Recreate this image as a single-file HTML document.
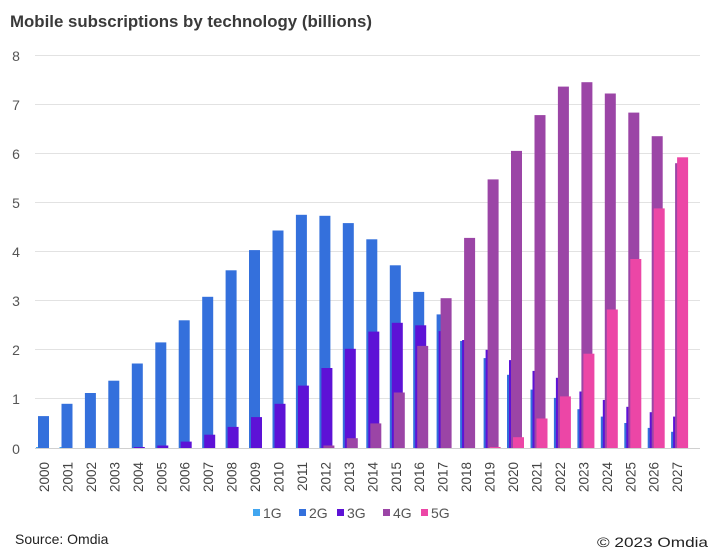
<!DOCTYPE html>
<html><head><meta charset="utf-8"><style>
html,body{margin:0;padding:0;background:#fff;}
svg{display:block;font-family:"Liberation Sans",sans-serif;}
</style></head><body>
<svg id="c" width="720" height="555" viewBox="0 0 720 555" xmlns="http://www.w3.org/2000/svg">
<text x="10" y="27" font-size="17" font-weight="bold" fill="#3a3a3a" textLength="362" lengthAdjust="spacingAndGlyphs">Mobile subscriptions by technology (billions)</text>
<g stroke="#e2e2e2" stroke-width="1">
<line x1="35" x2="700" y1="55.5" y2="55.5"/><line x1="35" x2="700" y1="104.5" y2="104.5"/>
<line x1="35" x2="700" y1="153.5" y2="153.5"/><line x1="35" x2="700" y1="202.5" y2="202.5"/>
<line x1="35" x2="700" y1="251.5" y2="251.5"/><line x1="35" x2="700" y1="300.5" y2="300.5"/>
<line x1="35" x2="700" y1="349.5" y2="349.5"/><line x1="35" x2="700" y1="398.5" y2="398.5"/>
<line x1="35" x2="700" y1="448.5" y2="448.5" stroke="#d0d0d0"/>
</g>
<g font-size="14" fill="#555" text-anchor="middle">
<text x="16" y="61">8</text><text x="16" y="110">7</text><text x="16" y="159">6</text>
<text x="16" y="208">5</text><text x="16" y="257">4</text><text x="16" y="306">3</text>
<text x="16" y="355">2</text><text x="16" y="404">1</text><text x="16" y="454">0</text>
</g>
<g id="bars"></g>
<g font-size="13.5" fill="#444" text-anchor="end">
<text transform="translate(49,462) rotate(-90)">2000</text>
<text transform="translate(72.5,462) rotate(-90)">2001</text>
<text transform="translate(96,462) rotate(-90)">2002</text>
<text transform="translate(119.4,462) rotate(-90)">2003</text>
<text transform="translate(142.8,462) rotate(-90)">2004</text>
<text transform="translate(166.3,462) rotate(-90)">2005</text>
<text transform="translate(189.7,462) rotate(-90)">2006</text>
<text transform="translate(213.2,462) rotate(-90)">2007</text>
<text transform="translate(236.6,462) rotate(-90)">2008</text>
<text transform="translate(260,462) rotate(-90)">2009</text>
<text transform="translate(283.5,462) rotate(-90)">2010</text>
<text transform="translate(307,462) rotate(-90)">2011</text>
<text transform="translate(330.4,462) rotate(-90)">2012</text>
<text transform="translate(353.9,462) rotate(-90)">2013</text>
<text transform="translate(377.3,462) rotate(-90)">2014</text>
<text transform="translate(400.8,462) rotate(-90)">2015</text>
<text transform="translate(424.2,462) rotate(-90)">2016</text>
<text transform="translate(447.7,462) rotate(-90)">2017</text>
<text transform="translate(471.1,462) rotate(-90)">2018</text>
<text transform="translate(494.6,462) rotate(-90)">2019</text>
<text transform="translate(518,462) rotate(-90)">2020</text>
<text transform="translate(541.5,462) rotate(-90)">2021</text>
<text transform="translate(564.9,462) rotate(-90)">2022</text>
<text transform="translate(588.4,462) rotate(-90)">2023</text>
<text transform="translate(611.8,462) rotate(-90)">2024</text>
<text transform="translate(635.3,462) rotate(-90)">2025</text>
<text transform="translate(658.7,462) rotate(-90)">2026</text>
<text transform="translate(682.2,462) rotate(-90)">2027</text>
</g>
<g font-size="14" fill="#555">
<rect x="253" y="509" width="7" height="7" fill="#41a6f0"/><text x="263" y="518">1G</text>
<rect x="299" y="509" width="7" height="7" fill="#3470dc"/><text x="309" y="518">2G</text>
<rect x="337" y="509" width="7" height="7" fill="#5d12d6"/><text x="347" y="518">3G</text>
<rect x="383" y="509" width="7" height="7" fill="#9b45a6"/><text x="393" y="518">4G</text>
<rect x="421" y="509" width="7" height="7" fill="#ec46a6"/><text x="431" y="518">5G</text>
</g>
<text x="15" y="544" font-size="14" fill="#222">Source: Omdia</text>
<text x="597" y="547" font-size="14" fill="#222" textLength="111" lengthAdjust="spacingAndGlyphs">© 2023 Omdia</text>
</svg>
<script>
var g1=[.02,.02,0,0,0,0,0,0,0,0,0,0,0,0,0,0,0,0,0,0,0,0,0,0,0,0,0,0];
var g2=[.65,.9,1.12,1.37,1.72,2.15,2.6,3.08,3.62,4.03,4.43,4.75,4.73,4.58,4.25,3.72,3.18,2.72,2.18,1.83,1.49,1.19,1.02,.79,.64,.51,.41,.33];
var g3=[0,0,0,0,.02,.05,.13,.27,.43,.63,.9,1.27,1.63,2.02,2.37,2.55,2.5,2.38,2.2,2.0,1.79,1.57,1.43,1.15,.98,.84,.73,.64];
var g4=[0,0,0,0,0,0,0,0,0,0,0,0,.05,.2,.5,1.13,2.08,3.05,4.28,5.47,6.05,6.78,7.36,7.45,7.22,6.83,6.35,5.8];
var g5=[0,0,0,0,0,0,0,0,0,0,0,0,0,0,0,0,0,0,0,.02,.22,.6,1.05,1.92,2.82,3.85,4.88,5.92];
var S=[[g1,"#41a6f0",-2],[g2,"#3470dc",0],[g3,"#5d12d6",2],[g4,"#9b45a6",4],[g5,"#ec46a6",6]];
var h="";
for(var s=0;s<5;s++){for(var i=0;i<28;i++){var v=S[s][0][i];if(v<=0)continue;var hh=v*49.1;var x=38+23.45*i+S[s][2];
h+='<rect x="'+x.toFixed(1)+'" y="'+(448-hh).toFixed(1)+'" width="11" height="'+hh.toFixed(1)+'" fill="'+S[s][1]+'"/>';}}
document.getElementById("bars").innerHTML=h;
</script>
</body></html>
